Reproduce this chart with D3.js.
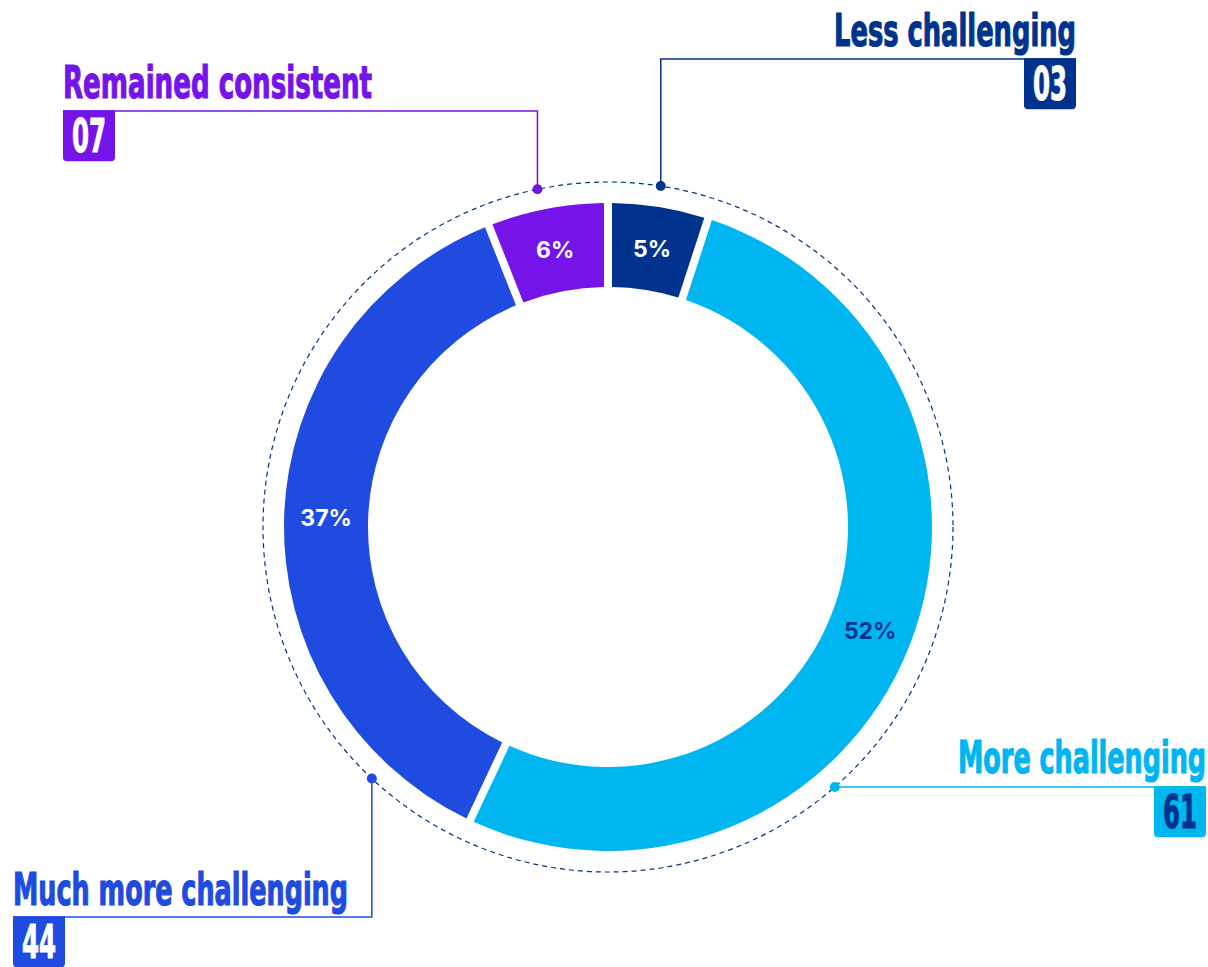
<!DOCTYPE html>
<html>
<head>
<meta charset="utf-8">
<script src="https://cdn.jsdelivr.net/npm/d3@7"></script>
<style>
  html, body { margin: 0; padding: 0; background: #fff; }
  svg { display: block; }
  .cat { font-family: "Liberation Sans Narrow", "DejaVu Sans Condensed", sans-serif; font-weight: 700; }
  .pct { font-family: Inter, Roboto, sans-serif; font-weight: 700; }
</style>
</head>
<body>
<svg id="chart" width="1208" height="967"></svg>
<script>
// Chart data
const categories = ["Less challenging", "More challenging", "Much more challenging", "Remained consistent"];
const shares = [5, 52, 37, 6];
const counts = ["03", "61", "44", "07"];
const colors = ["#00338d", "#00b6f1", "#1f4be1", "#7414e9"];
const pctColors = ["#ffffff", "#00338d", "#ffffff", "#ffffff"];
const countColors = ["#ffffff", "#00338d", "#ffffff", "#ffffff"];

// Callout layout (anchor angle on dashed ring, elbow line, label box)
const callouts = [
    {angle: 8.8, lineY: 59, endX: 1076, side: 'right', textY: 46, textW: 242},
    {angle: 138.9, lineY: 787, endX: 1206, side: 'right', textY: 773, textW: 248},
    {angle: 223.2, lineY: 917, endX: 13, side: 'left', textY: 905, textW: 335},
    {angle: 348.2, lineY: 111, endX: 63, side: 'left', textY: 98, textW: 309}
];

const svg = d3.select('#chart');
const cx = 608, cy = 527;
const outerR = 324, innerR = 240, ringR = 345;

const data = categories.map((c, i) => ({name: c, value: shares[i], count: counts[i], i: i}));

const pie = d3.pie().sort(null).value(d => d.value);
const arcs = pie(data);

const arc = d3.arc()
    .innerRadius(innerR)
    .outerRadius(outerR)
    .padRadius(outerR)
    .padAngle(8 / outerR);

const labelArc = d3.arc().innerRadius((innerR + outerR) / 2).outerRadius((innerR + outerR) / 2);

const g = svg.append('g').attr('transform', `translate(${cx},${cy})`);

// dashed ring
g.append('circle')
    .attr('r', ringR)
    .attr('fill', 'none')
    .attr('stroke', '#00338d')
    .attr('stroke-width', 1.2)
    .attr('stroke-dasharray', '5,4');

// slices
g.selectAll('path.slice')
    .data(arcs)
    .enter()
    .append('path')
    .attr('class', 'slice')
    .attr('d', arc)
    .attr('fill', d => colors[d.index]);

// percentage labels
g.selectAll('text.pct')
    .data(arcs)
    .enter()
    .append('text')
    .attr('class', 'pct')
    .attr('transform', d => `translate(${labelArc.centroid(d)})`)
    .attr('text-anchor', 'middle')
    .attr('dy', '0.36em')
    .attr('font-size', 23)
    .attr('fill', d => pctColors[d.index])
    .text(d => d.value + '%');

// callouts
const boxW = 52, boxH = 51, rad = 4;

data.forEach((d, i) => {
    const c = callouts[i];
    const a = c.angle * Math.PI / 180;
    const px = cx + ringR * Math.sin(a);
    const py = cy - ringR * Math.cos(a);
    const col = colors[i];

    // leader line
    svg.append('path')
        .attr('d', `M${px},${py}V${c.lineY}H${c.endX}`)
        .attr('fill', 'none')
        .attr('stroke', col)
        .attr('stroke-width', 1.5);

    svg.append('circle')
        .attr('cx', px)
        .attr('cy', py)
        .attr('r', 5)
        .attr('fill', col);

    // category text (thickened a little with a stroke)
    svg.append('text')
        .attr('class', 'cat')
        .attr('x', c.endX)
        .attr('y', c.textY)
        .attr('text-anchor', c.side === 'right' ? 'end' : 'start')
        .attr('font-size', 45)
        .attr('textLength', c.textW)
        .attr('lengthAdjust', 'spacingAndGlyphs')
        .attr('fill', col)
        .attr('stroke', col)
        .attr('stroke-width', 1.2)
        .text(d.name);

    // count box with rounded bottom corners
    const x0 = c.side === 'right' ? c.endX - boxW : c.endX;
    const y0 = c.lineY - 0.75;
    svg.append('path')
        .attr('d', `M${x0},${y0}H${x0 + boxW}V${y0 + boxH - rad}Q${x0 + boxW},${y0 + boxH} ${x0 + boxW - rad},${y0 + boxH}H${x0 + rad}Q${x0},${y0 + boxH} ${x0},${y0 + boxH - rad}Z`)
        .attr('fill', col);

    svg.append('text')
        .attr('class', 'cat')
        .attr('x', x0 + boxW / 2)
        .attr('y', y0 + boxH / 2)
        .attr('dy', '0.36em')
        .attr('text-anchor', 'middle')
        .attr('font-size', 46)
        .attr('textLength', 34)
        .attr('lengthAdjust', 'spacingAndGlyphs')
        .attr('fill', countColors[i])
        .attr('stroke', countColors[i])
        .attr('stroke-width', 1)
        .text(d.count);
});
</script>
</body>
</html>
